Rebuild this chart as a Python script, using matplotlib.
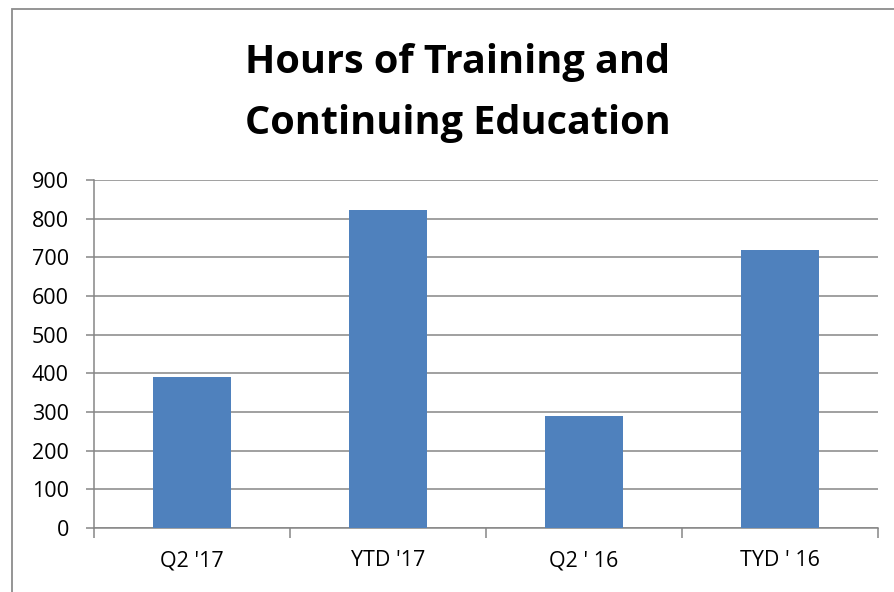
import matplotlib
matplotlib.use("Agg")
import matplotlib.pyplot as plt
from matplotlib.patches import Rectangle
import numpy as np

categories = ["Q2 '17", "YTD '17", "Q2 ' 16", "TYD ' 16"]
hours = [390, 823, 290, 720]
y_ticks = [0, 100, 200, 300, 400, 500, 600, 700, 800, 900]

title = "Hours of Training and\nContinuing Education"
bar_color = "#4F81BD"
line_color = "#868686"

plt.rcParams["font.family"] = ["Open Sans", "DejaVu Sans"]

W, H = 894, 592
fig = plt.figure(figsize=(W / 100, H / 100), dpi=100)
ax = fig.add_axes([94 / W, 1 - 528 / H, (878 - 94) / W, (528 - 180) / H])

x = np.arange(len(categories))
ax.bar(x, hours, width=0.4, color=bar_color, zorder=3)

ax.set_xlim(-0.5, len(categories) - 0.5)
ax.set_ylim(0, 900)
ax.set_yticks(y_ticks)
ax.yaxis.grid(True, color=line_color, linewidth=1.1, zorder=0)
ax.tick_params(axis="y", length=6, width=1.1, color=line_color, pad=12, labelsize=15.5)

# category boundaries carry the tick marks, centres carry the labels
ax.set_xticks(np.arange(len(categories) + 1) - 0.5)
ax.set_xticklabels([])
ax.set_xticks(x, minor=True)
ax.set_xticklabels(categories, minor=True)
ax.tick_params(axis="x", which="major", length=7, width=1.1, color=line_color)
ax.tick_params(axis="x", which="minor", length=0, pad=16, labelsize=15.5)

for side in ("top", "right"):
    ax.spines[side].set_visible(False)
for side in ("left", "bottom"):
    ax.spines[side].set_color(line_color)
    ax.spines[side].set_linewidth(1.1)

fig.text(458 / W, 1 - 93 / H, title, ha="center", va="center",
         fontsize=28.5, fontweight="bold", linespacing=1.72)

# chart frame, cropped at right and bottom
fig.patches.append(Rectangle((12 / W, -0.1), 1.2, 1.1 - 9 / H, transform=fig.transFigure,
                             fill=False, edgecolor="#8c8c8c", linewidth=1.3))

fig.savefig("out.png", dpi=100)
